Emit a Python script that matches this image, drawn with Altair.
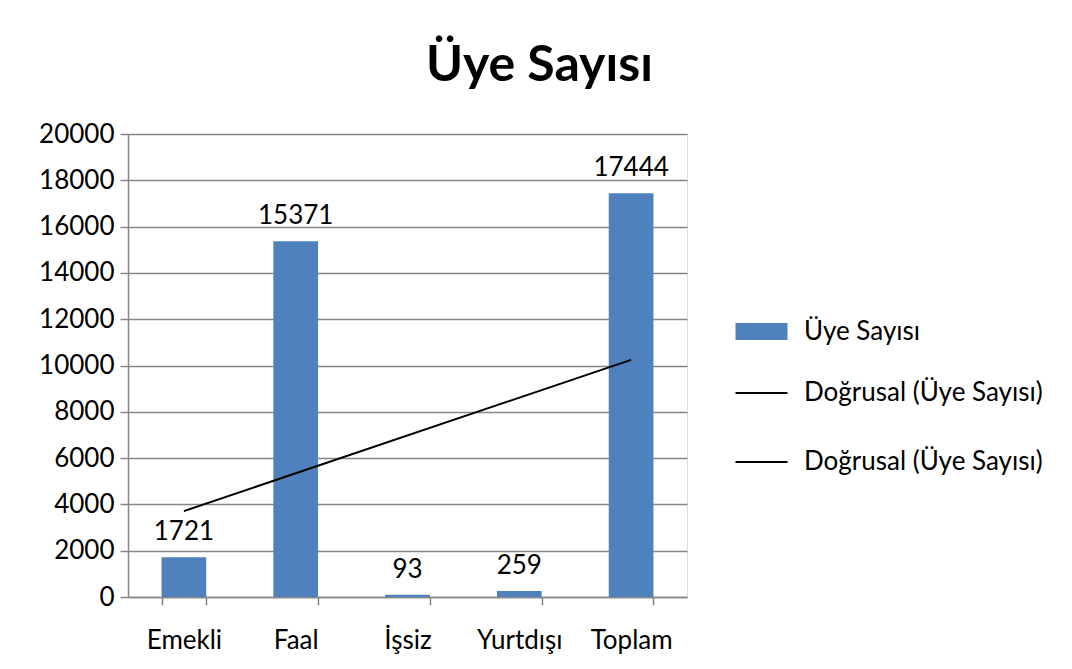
import altair as alt
import pandas as pd

kategoriler = ["Emekli", "Faal", "İşsiz", "Yurtdışı", "Toplam"]
degerler = [1721, 15371, 93, 259, 17444]
sira = [1, 2, 3, 4, 5]
seri_adlari = ["Üye Sayısı", "Doğrusal (Üye Sayısı)", "Doğrusal (Üye Sayısı) "]
seri_renkleri = ["#4F81BD", "#000000", "#000000"]
seri_kalinlik = [17, 2, 2]
y_ticks = list(range(0, 20001, 2000))

df = pd.DataFrame({"kategori": kategoriler, "deger": degerler, "sira": sira})
leg_df = pd.DataFrame({"seri": seri_adlari})

FONT = "Lato"
GRAY = "#868686"
FS = 26

x_enc = alt.X(
    "kategori:N",
    sort=kategoriler,
    title=None,
    scale=alt.Scale(paddingInner=0.6, paddingOuter=0.3),
    axis=alt.Axis(
        labelAngle=0, labelFont=FONT, labelFontSize=FS, labelColor="#000000",
        labelPadding=22, tickBand="extent", tickSize=8, tickColor=GRAY,
        domainColor=GRAY, domainWidth=1.5, tickWidth=1.5, grid=False,
    ),
)
y_enc = alt.Y(
    "deger:Q",
    title=None,
    scale=alt.Scale(domain=[0, 20000], nice=False),
    axis=alt.Axis(
        values=y_ticks, format="d", labelFont=FONT, labelFontSize=FS,
        labelColor="#000000", labelPadding=6, tickSize=8, tickColor=GRAY,
        tickWidth=1.5, domainColor=GRAY, domainWidth=1.5, gridColor=GRAY,
        gridWidth=1.5,
    ),
)

color_scale = alt.Scale(domain=seri_adlari, range=seri_renkleri)
width_scale = alt.Scale(type="ordinal", domain=seri_adlari, range=seri_kalinlik)
legend = alt.Legend(
    title=None,
    orient="none",
    legendX=599,
    legendY=163,
    symbolType="stroke",
    symbolSize=2704,
    symbolOpacity=1,
    rowPadding=0,
    gridAlign="all",
    labelFont=FONT,
    labelFontSize=FS,
    labelColor="#000000",
    labelOffset=8,
    labelLimit=0,
)

base = alt.Chart(df)

bars = base.mark_bar(color=seri_renkleri[0]).encode(x=x_enc, y=y_enc)

labels = base.mark_text(
    baseline="bottom", dy=-12, font=FONT, fontSize=FS, color="#000000"
).encode(x=x_enc, y=y_enc, text=alt.Text("deger:Q", format="d"))

trend = (
    base.transform_regression("sira", "deger", method="linear")
    .transform_lookup(
        lookup="sira",
        from_=alt.LookupData(data=df, key="sira", fields=["kategori"]),
    )
    .mark_line(strokeWidth=2, color="#000000")
    .encode(x=x_enc, y=y_enc)
)

legend_layer = (
    alt.Chart(leg_df)
    .mark_point(filled=False, opacity=0)
    .encode(
        color=alt.Color("seri:N", scale=color_scale, legend=legend),
        strokeWidth=alt.StrokeWidth("seri:N", scale=width_scale, legend=legend),
    )
)

chart = (
    alt.layer(bars, trend, labels, legend_layer)
    .properties(
        width=559,
        height=463,
        title=alt.TitleParams(
            "Üye Sayısı", font=FONT, fontSize=50, fontWeight="bold",
            color="#000000", anchor="middle", dx=132, offset=30,
        ),
        padding={"left": 30, "top": 33, "right": 10, "bottom": 10},
    )
    .configure_view(stroke=None)
    .configure(background="#ffffff")
)

chart.save("out.html", embed_options={"renderer": "svg", "actions": False})
